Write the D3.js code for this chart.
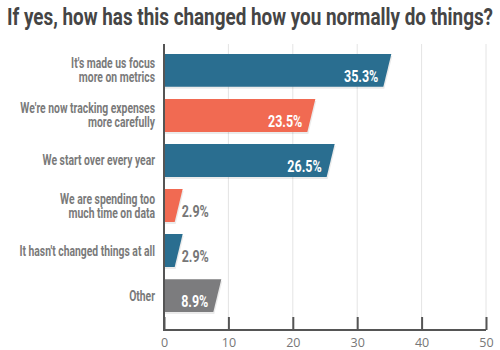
<!DOCTYPE html>
<html>
<head>
<meta charset="utf-8">
<script src="https://cdn.jsdelivr.net/npm/d3@7"></script>
<style>
  body { margin: 0; background: #fff; }
  svg { display: block; }
</style>
</head>
<body>
<div id="chart"></div>
<script>
// data
const categories = [
  "It's made us focus|more on metrics",
  "We're now tracking expenses|more carefully",
  "We start over every year",
  "We are spending too|much time on data",
  "It hasn't changed things at all",
  "Other"
];
const values = [35.3, 23.5, 26.5, 2.9, 2.9, 8.9];
const xTicks = [0, 10, 20, 30, 40, 50];

// colours per bar, same order as categories
const barColors = ["#2a6e90", "#f16a52", "#2a6e90", "#f16a52", "#2a6e90", "#7c7c7e"];

const W = 500, H = 350;
const margin = {top: 44, right: 14, bottom: 20, left: 164},
    width = W - margin.left - margin.right,
    height = H - margin.top - margin.bottom;

const svg = d3.select("#chart")
  .append("svg")
  .attr("width", W)
  .attr("height", H);

const font = "Roboto, 'Liberation Sans', sans-serif";

// squeeze text horizontally, the original uses a condensed face
function condense(sel, factor) {
  sel.each(function() {
    const len = this.getComputedTextLength();
    d3.select(this)
      .attr("textLength", len * factor)
      .attr("lengthAdjust", "spacingAndGlyphs");
  });
}

// title
svg.append("text")
  .attr("x", W / 2)
  .attr("y", 25)
  .attr("text-anchor", "middle")
  .style("font-family", font)
  .style("font-weight", "bold")
  .style("font-size", "24px")
  .style("fill", "#454545")
  .attr("textLength", 486)
  .attr("lengthAdjust", "spacingAndGlyphs")
  .text("If yes, how has this changed how you normally do things?");

const g = svg.append("g")
  .attr("transform", `translate(${margin.left},${margin.top})`);

const x = d3.scaleLinear()
  .domain([0, 50])
  .range([0, 322]);

const y = d3.scaleBand()
  .domain(categories)
  .range([10, 10 + 45 * categories.length - 12])
  .paddingInner(0.27)
  .paddingOuter(0);

const color = d3.scaleOrdinal()
  .domain(categories)
  .range(barColors);

// gridlines
g.selectAll(".grid")
  .data(xTicks.slice(1))
  .join("line")
  .attr("x1", d => x(d)).attr("x2", d => x(d))
  .attr("y1", 0).attr("y2", height)
  .attr("stroke", "#e4e4e4")
  .attr("stroke-width", 1);

const slant = 8;
function barPath(d, i, off) {
  const x0 = x(0), x1 = x(values[i]);
  const y0 = y(d) + off, y1 = y(d) + y.bandwidth() + off;
  return `M${x0},${y0}L${x1},${y0}L${Math.max(x0, x1 - slant)},${y1}L${x0},${y1}Z`;
}

// shadows
g.selectAll(".shadow")
  .data(categories)
  .join("path")
  .attr("d", (d, i) => barPath(d, i, 2))
  .attr("transform", "translate(1,0)")
  .attr("fill", "#000")
  .attr("opacity", 0.08);

g.selectAll(".bar")
  .data(categories)
  .join("path")
  .attr("d", (d, i) => barPath(d, i, 0))
  .attr("fill", d => color(d));

// value labels
g.selectAll(".val")
  .data(categories)
  .join("text")
  .attr("x", (d, i) => values[i] > 5 ? x(values[i]) - 13 : x(values[i]) - 1)
  .attr("y", d => y(d) + y.bandwidth() - 5)
  .attr("text-anchor", (d, i) => values[i] > 5 ? "end" : "start")
  .style("font-family", font)
  .style("font-weight", "bold")
  .style("font-size", "16px")
  .style("fill", (d, i) => values[i] > 5 ? "#fff" : "#777")
  .text((d, i) => d3.format(".1f")(values[i]) + "%")
  .call(condense, 0.78);

// category labels, one text per line
categories.forEach(function(d) {
  const lines = d.split("|");
  const cy = y(d) + y.bandwidth() / 2;
  const start = cy - (lines.length - 1) * 7 + 5;
  g.selectAll(null)
    .data(lines)
    .join("text")
    .attr("x", -9)
    .attr("y", (l, k) => start + k * 14)
    .attr("text-anchor", "end")
    .style("font-family", font)
    .style("font-weight", "bold")
    .style("font-size", "15px")
    .style("fill", "#7a7a7a")
    .text(l => l)
    .call(condense, 0.69);
});

// axis
const axis = g.append("g")
  .attr("transform", `translate(0,${height})`)
  .call(d3.axisBottom(x).tickValues(xTicks).tickSize(13));
axis.select(".domain").remove();
axis.selectAll(".tick line")
  .attr("transform", "translate(0,-13)")
  .attr("stroke", "#555")
  .attr("stroke-width", 2);
axis.selectAll(".tick text")
  .attr("y", 8)
  .style("font-family", "'Open Sans', sans-serif")
  .style("font-size", "12.5px")
  .style("fill", "#777");

g.append("line")
  .attr("x1", 0).attr("x2", x(50))
  .attr("y1", height).attr("y2", height)
  .attr("stroke", "#555").attr("stroke-width", 2);
g.append("line")
  .attr("x1", 0).attr("x2", 0)
  .attr("y1", 0).attr("y2", height + 1)
  .attr("stroke", "#555").attr("stroke-width", 2);
</script>
</body>
</html>
